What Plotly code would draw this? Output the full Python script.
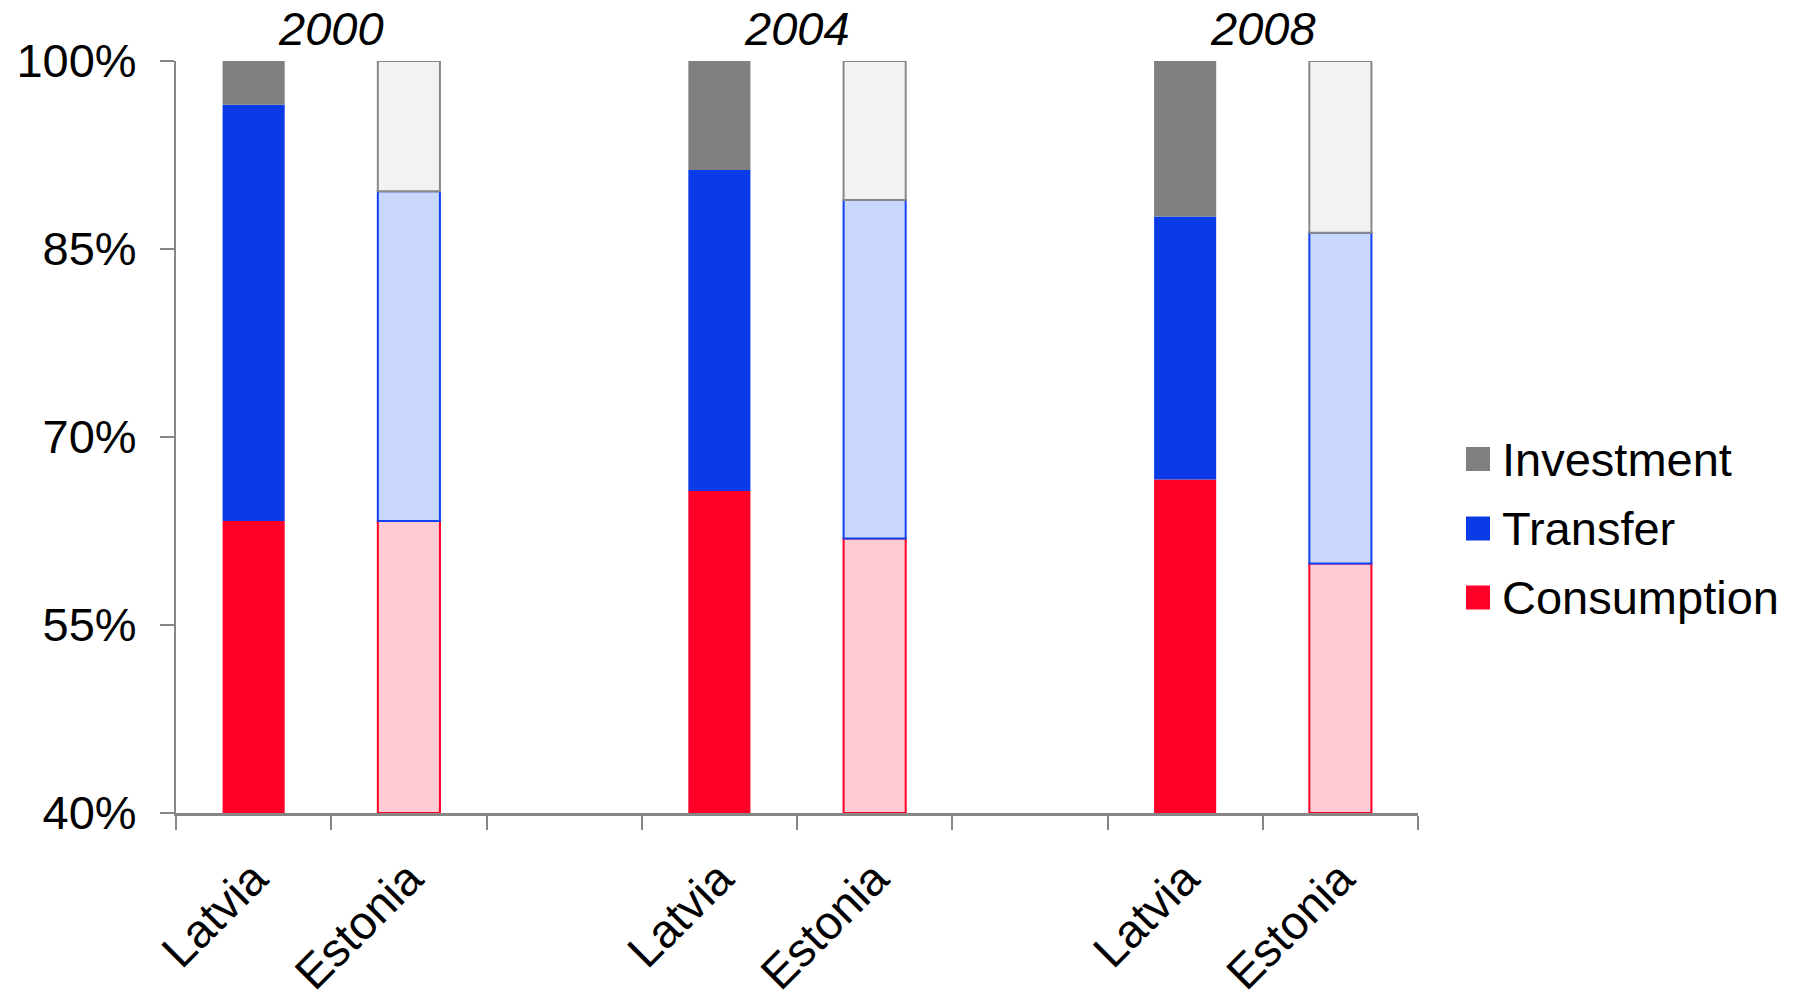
import plotly.graph_objects as go

# Slots along the x axis: Latvia / Estonia for each year, with an empty slot between years
slot_keys = ["2000 Latvia", "2000 Estonia", "gap 1",
             "2004 Latvia", "2004 Estonia", "gap 2",
             "2008 Latvia", "2008 Estonia"]
slot_labels = ["Latvia", "Estonia", "", "Latvia", "Estonia", "", "Latvia", "Estonia"]

bar_keys = ["2000 Latvia", "2000 Estonia",
            "2004 Latvia", "2004 Estonia",
            "2008 Latvia", "2008 Estonia"]
countries = ["Latvia", "Estonia", "Latvia", "Estonia", "Latvia", "Estonia"]
years = ["2000", "2004", "2008"]

# Shares of the total (%), bottom to top of each bar
consumption = [63.3, 63.3, 65.7, 61.9, 66.6, 59.9]
transfer = [33.2, 26.3, 25.6, 27.0, 21.0, 26.4]
investment = [3.5, 10.4, 8.7, 11.1, 12.4, 13.7]

axis_floor = 40
y_ticks = [40, 55, 70, 85, 100]

FONT = "Liberation Sans, Arial, sans-serif"
FS = 47
AXIS_GREY = "#868686"

# Solid fills for Latvia, pale fills with coloured outlines for Estonia
styles = {
    "Consumption": dict(solid="#FF0029", pale="#FFCCD5", edge="#FF0029"),
    "Transfer": dict(solid="#0A3BE6", pale="#CAD7FD", edge="#1242F0"),
    "Investment": dict(solid="#808080", pale="#F2F2F2", edge="#888888"),
}

# Cumulative bases so each segment sits on the one below it
base_cons = [axis_floor] * len(consumption)
height_cons = [c - axis_floor for c in consumption]
base_tr = list(consumption)
base_inv = [c + t for c, t in zip(consumption, transfer)]

fig = go.Figure()
for name, base, height in [("Consumption", base_cons, height_cons),
                           ("Transfer", base_tr, transfer),
                           ("Investment", base_inv, investment)]:
    st = styles[name]
    fills = [st["solid"] if c == "Latvia" else st["pale"] for c in countries]
    edges = [st["solid"] if c == "Latvia" else st["edge"] for c in countries]
    widths = [0 if c == "Latvia" else 2 for c in countries]
    fig.add_trace(go.Bar(
        x=bar_keys, y=height, base=base, name=name,
        width=0.4, cliponaxis=False, showlegend=False,
        marker=dict(color=fills, line=dict(color=edges, width=widths)),
    ))

# Plot area in pixels
plot_l, plot_r, plot_t, plot_b = 176, 1418, 61, 813
W, H = 1806, 999


def px_x(px):
    return (px - plot_l) / (plot_r - plot_l)


def px_y(py):
    return (plot_b - py) / (plot_b - plot_t)


# Year headings centred over each Latvia/Estonia pair
for i, yr in enumerate(years):
    fig.add_annotation(
        x=3 * i + 0.5, xref="x", y=px_y(29), yref="paper", yanchor="middle",
        text=f"<i>{yr}</i>", showarrow=False,
        font=dict(family=FONT, size=FS, color="black"),
    )

# Legend drawn as squares and labels to the right of the plot
legend_items = ["Investment", "Transfer", "Consumption"]
row_centres = [459, 528.5, 597.5]
for name, cy in zip(legend_items, row_centres):
    fig.add_shape(type="rect", xref="paper", yref="paper",
                  x0=px_x(1466), x1=px_x(1490), y0=px_y(cy + 12), y1=px_y(cy - 12),
                  fillcolor=styles[name]["solid"], line=dict(width=0))
    fig.add_annotation(x=px_x(1500), y=px_y(cy), xref="paper", yref="paper",
                       xanchor="left", yanchor="middle", text=name, showarrow=False,
                       font=dict(family=FONT, size=FS, color="black"))

fig.update_layout(
    width=W, height=H,
    margin=dict(l=plot_l, r=W - plot_r, t=plot_t, b=H - plot_b, pad=0),
    paper_bgcolor="white", plot_bgcolor="white",
    barmode="overlay",
    font=dict(family=FONT, size=FS, color="black"),
    xaxis=dict(
        type="category", categoryorder="array", categoryarray=slot_keys,
        range=[-0.5, len(slot_keys) - 0.5], automargin=False,
        tickmode="array", tickvals=slot_keys, ticktext=slot_labels,
        tickson="boundaries", ticks="outside", ticklen=14, tickwidth=2,
        tickcolor=AXIS_GREY, tickangle=-45, ticklabelstandoff=16,
        showline=True, linecolor=AXIS_GREY, linewidth=3,
        showgrid=False, zeroline=False,
        tickfont=dict(family=FONT, size=FS, color="black"),
    ),
    yaxis=dict(
        range=[axis_floor, 100], tickmode="array", tickvals=y_ticks,
        ticktext=[f"{v}%" for v in y_ticks], automargin=False,
        ticks="outside", ticklen=14, tickwidth=2, tickcolor=AXIS_GREY,
        ticklabelstandoff=14,
        showline=True, linecolor=AXIS_GREY, linewidth=2,
        showgrid=False, zeroline=False,
        tickfont=dict(family=FONT, size=FS, color="black"),
    ),
)

fig.write_html("out.html")
